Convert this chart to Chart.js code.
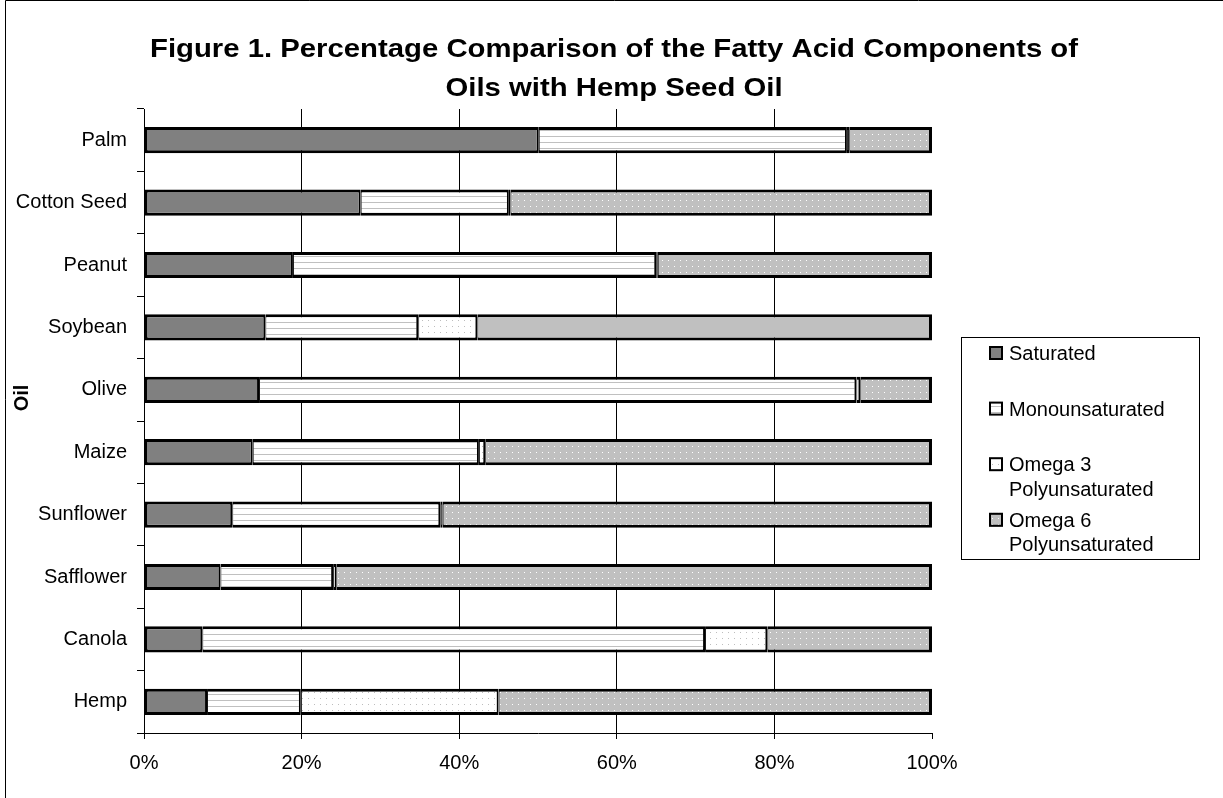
<!DOCTYPE html>
<html>
<head>
<meta charset="utf-8">
<title>Fatty acid components of oils</title>
<script src="https://cdn.jsdelivr.net/npm/chart.js@4.4.1/dist/chart.umd.min.js"></script>
<style>
  html, body { margin: 0; padding: 0; background: #fff; }
  #wrap { position: relative; width: 1223px; height: 798px; }
</style>
</head>
<body>
<div id="wrap"><canvas id="oilChart"></canvas></div>
<script>
const titleLines = [
  "Figure 1. Percentage Comparison of the Fatty Acid Components of",
  "Oils with Hemp Seed Oil",
];
const yTitle = "Oil";

const oils = ["Palm", "Cotton Seed", "Peanut", "Soybean", "Olive", "Maize", "Sunflower", "Safflower", "Canola", "Hemp"];
const seriesNames = ["Saturated", "Monounsaturated", "Omega 3 Polyunsaturated", "Omega 6 Polyunsaturated"];

// percent of total fatty acids
const saturated = [50.1, 27.5, 18.9, 15.4, 14.6, 13.8, 11.2, 9.7, 7.4, 8.0];
const monounsaturated = [39.1, 18.8, 46.1, 19.4, 75.8, 28.7, 26.4, 14.3, 63.8, 11.9];
const omega3 = [0.3, 0.2, 0.2, 7.5, 0.5, 0.8, 0.3, 0.4, 7.9, 25.1];
const omega6 = [10.5, 53.5, 34.8, 57.7, 9.1, 56.7, 62.1, 75.6, 20.9, 55.0];

const percentTicks = [0, 20, 40, 60, 80, 100];

const FONT = "'Liberation Sans', Arial, sans-serif";

function makePattern(bg, mark) {
  const c = document.createElement("canvas");
  c.width = 6;
  c.height = 6;
  const g = c.getContext("2d");
  g.fillStyle = bg;
  g.fillRect(0, 0, 6, 6);
  mark(g);
  return g.createPattern(c, "repeat");
}

const monoFill = makePattern("#ffffff", (g) => {
  g.fillStyle = "#c0c0c0";
  g.fillRect(0, 4, 6, 1);
});
const omega3Fill = makePattern("#ffffff", (g) => {
  g.fillStyle = "#bdbdbd";
  g.fillRect(2, 2, 1, 1);
});
const omega6Fill = makePattern("#c0c0c0", (g) => {
  g.fillStyle = "#ffffff";
  g.fillRect(2, 2, 1, 1);
});

// heavy black outlines like the original; inner joins come out ~3px
const edge = { top: 3, bottom: 3, left: 1, right: 2 };

const data = {
  labels: oils,
  datasets: [
    {
      label: seriesNames[0],
      data: saturated,
      backgroundColor: "#808080",
      borderWidth: { ...edge, left: 3 },
    },
    {
      label: seriesNames[1],
      data: monounsaturated,
      backgroundColor: monoFill,
      borderWidth: edge,
    },
    {
      label: seriesNames[2],
      data: omega3,
      backgroundColor: omega3Fill,
      borderWidth: edge,
    },
    {
      label: seriesNames[3],
      data: omega6,
      // soybean is drawn flat grey in the original
      backgroundColor: oils.map((o) => (o === "Soybean" ? "#c0c0c0" : omega6Fill)),
      borderWidth: { ...edge, right: 3 },
    },
  ],
};

function wrapText(ctx, text, maxW) {
  const words = text.split(" ");
  const lines = [];
  let cur = "";
  words.forEach((w) => {
    const test = cur ? cur + " " + w : w;
    if (cur && ctx.measureText(test).width > maxW) {
      lines.push(cur);
      cur = w;
    } else {
      cur = test;
    }
  });
  if (cur) lines.push(cur);
  return lines;
}

const decor = {
  id: "decor",
  afterDraw(chart) {
    const ctx = chart.ctx;
    ctx.save();

    // outer frame
    ctx.strokeStyle = "#000";
    ctx.lineWidth = 1;
    ctx.beginPath();
    ctx.moveTo(5.5, 798);
    ctx.lineTo(5.5, 0.5);
    ctx.lineTo(1223, 0.5);
    ctx.stroke();

    // title, slightly widened like the original
    ctx.fillStyle = "#000";
    ctx.font = "bold 26px " + FONT;
    ctx.textAlign = "center";
    ctx.textBaseline = "alphabetic";
    const sx = 928 / ctx.measureText(titleLines[0]).width;
    titleLines.forEach((line, i) => {
      ctx.save();
      ctx.translate(614, 57 + i * 39);
      ctx.scale(sx, 1);
      ctx.fillText(line, 0, 0);
      ctx.restore();
    });

    // y axis title
    ctx.save();
    ctx.font = "bold 20px " + FONT;
    ctx.translate(22, 398);
    ctx.rotate(-Math.PI / 2);
    ctx.textBaseline = "middle";
    ctx.fillText(yTitle, 0, 0);
    ctx.restore();

    // legend
    ctx.strokeStyle = "#000";
    ctx.lineWidth = 1;
    ctx.strokeRect(961.5, 337.5, 238, 222);
    ctx.font = "20px " + FONT;
    ctx.textAlign = "left";
    chart.data.datasets.forEach((ds, i) => {
      const base = 360 + i * 55.6;
      const fill = Array.isArray(ds.backgroundColor) ? ds.backgroundColor[0] : ds.backgroundColor;
      ctx.fillStyle = fill;
      ctx.fillRect(989, base - 14, 14, 14);
      ctx.lineWidth = 2;
      ctx.strokeRect(990, base - 13, 12, 12);
      ctx.fillStyle = "#000";
      wrapText(ctx, ds.label, 185).forEach((t, j) => {
        ctx.fillText(t, 1009, base + j * 24.3);
      });
    });

    ctx.restore();
  },
};

const config = {
  type: "bar",
  data: data,
  options: {
    indexAxis: "y",
    responsive: true,
    maintainAspectRatio: false,
    devicePixelRatio: 1,
    animation: false,
    barPercentage: 0.42,
    categoryPercentage: 1,
    layout: { padding: { left: 0, right: 291, top: 109, bottom: 0 } },
    plugins: {
      legend: { display: false },
      title: { display: false },
      tooltip: { enabled: false },
    },
    datasets: {
      bar: { borderColor: "#000", borderSkipped: false, inflateAmount: 0 },
    },
    scales: {
      x: {
        stacked: true,
        min: 0,
        max: 100,
        afterBuildTicks: (s) => {
          s.ticks = percentTicks.map((v) => ({ value: v }));
        },
        afterFit: (s) => {
          s.height = 65;
        },
        grid: {
          color: (c) => (c.tick && c.tick.value === 100 ? "rgba(0,0,0,0)" : "#000"),
          tickColor: "#000",
          tickLength: 6,
          lineWidth: 1,
        },
        border: { color: "#000", width: 1 },
        ticks: {
          color: "#000",
          font: { family: FONT, size: 20 },
          padding: 12,
          maxRotation: 0,
          callback: (v) => v + "%",
        },
      },
      y: {
        stacked: true,
        afterFit: (s) => {
          s.width = 144;
        },
        grid: {
          offset: true,
          drawOnChartArea: false,
          tickColor: "#000",
          tickLength: 7,
        },
        border: { color: "#000", width: 1 },
        ticks: {
          color: "#000",
          font: { family: FONT, size: 20 },
          padding: 10,
        },
      },
    },
  },
  plugins: [decor],
};

const chart = new Chart(document.getElementById("oilChart"), config);
</script>
</body>
</html>
